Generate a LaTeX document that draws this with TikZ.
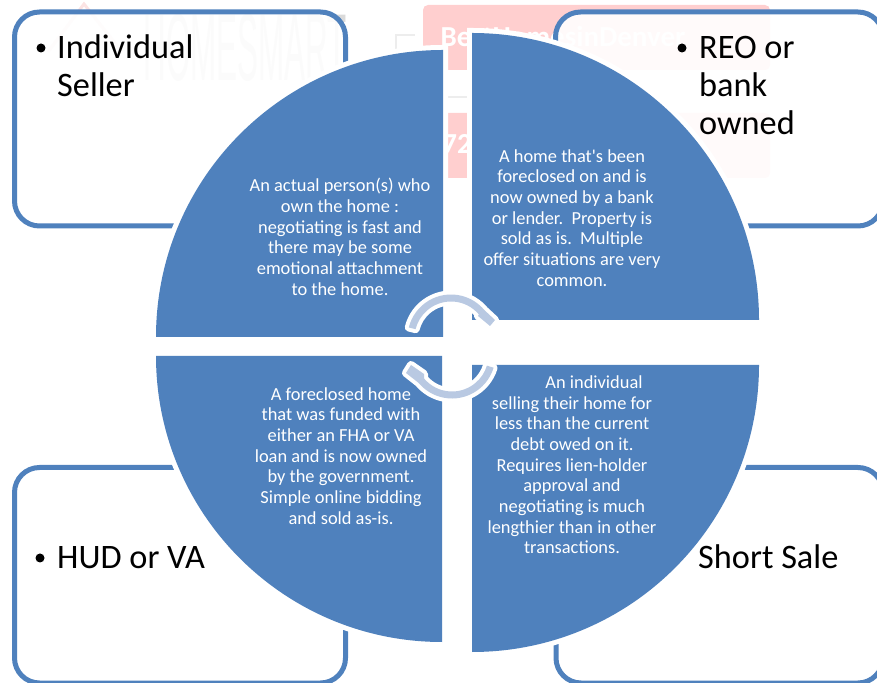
\documentclass[tikz,border=0pt]{standalone}
\usepackage{fontspec}
\newfontfamily\carlitofont{Carlito}
\newfontfamily\wmfont{Liberation Sans}
\definecolor{qblue}{HTML}{4F81BD}
\definecolor{arrowc}{HTML}{B9C9E2}
\definecolor{wmpink}{HTML}{FFCFCF}
\definecolor{wmgrey}{HTML}{DADADA}
\definecolor{wmline}{HTML}{EDEDED}
\definecolor{wmrose}{HTML}{FBE3E3}
\tikzset{
  x=1pt,y=1pt,
  outerbox/.style={draw=qblue,line width=5pt,rounded corners=25pt,fill=white,fill opacity=.9},
  quad/.style={fill=qblue,preaction={draw=white,line width=10pt}},
  bigtxt/.style={anchor=base west,inner sep=0pt,font=\carlitofont\fontsize{34.3}{38}\selectfont,align=left,text=black},
  dotmark/.style={circle,fill=black,inner sep=0pt,minimum size=9pt},
  smalltxt/.style={align=center,inner sep=0pt,text=white,font=\carlitofont\fontsize{18.4}{20.67}\selectfont,anchor=center},
  cyc/.style={fill=arrowc,preaction={draw=white,line width=8pt,line join=round}},
  wmrect/.style={fill=wmpink,rounded corners=5pt},
  wmtxt/.style={inner sep=0pt,text=wmgrey,font=\wmfont\fontsize{95}{95}\selectfont,xscale=.33},
  wmlabel/.style={inner sep=0pt,text=white,font=\carlitofont\bfseries\fontsize{29}{29}\selectfont}
}
\begin{document}
\begin{tikzpicture}
\useasboundingbox (0,0) rectangle (877,682);
% watermark
\node[wmtxt] (wm) at (245,634) {HOMESMART};
\draw[wmrose,line width=3pt] (48,630) -- (84,678) -- (122,630);
\draw[wmline,line width=1.5pt] (415,647) -- (396,647) -- (396,610);
\draw[wmline,line width=1.5pt] (447,585) -- (467,585);
\fill[wmrect] (423,677) rectangle (770,612);
\fill[wmrect] (423,569) rectangle (770,504);
\node[wmlabel] (wma) at (563,646) {BestHomesinDenver};
\node[wmlabel] (wmb) at (457,538) {72};
% boxes
\draw[outerbox] (14.5,670) rectangle (345.5,456);
\draw[outerbox] (555.5,670) rectangle (883,456);
\draw[outerbox] (14.5,214.5) rectangle (345.5,-1);
\draw[outerbox] (556,214.5) rectangle (883,-1);
% box text
\node[dotmark] (b1) at (41,634) {};
\node[bigtxt] (t1) at (57,623) {Individual};
\node[bigtxt] (t1b) at (57,585) {Seller};
\node[dotmark] (b2) at (682,634) {};
\node[bigtxt] (t2) at (699,623) {REO or};
\node[bigtxt] (t2b) at (699,585) {bank};
\node[bigtxt] (t2c) at (699,547) {owned};
\node[dotmark] (b3) at (40,124) {};
\node[bigtxt] (t3) at (57,113) {HUD or VA};
\node[dotmark] (b4) at (682,124) {};
\node[bigtxt] (t4) at (698,113) {Short Sale};
% quadrants
\path[quad] (156,345) arc (180:90:287) -- (443,345) -- cycle;
\path[quad] (472,649) arc (90:0:287) -- (472,362) -- cycle;
\path[quad] (759,317) arc (0:-90:287) -- (472,317) -- cycle;
\path[quad] (442,40) arc (270:180:286) -- (442,326) -- cycle;
% cycle arrows
\path[cyc] (451,344) ++(166:43.5) arc[start angle=166,end angle=40,radius=43.5] -- (495,362) -- (490,356) -- (478,366) -- (478.96,367.46) arc[start angle=40,end angle=166,radius=36.5] -- cycle;
\path[cyc] (452,327) ++(-17:43.5) arc[start angle=-17,end angle=-140,radius=43.5] -- (406,309) -- (411,317) -- (424,308) -- (424.04,303.54) arc[start angle=-140,end angle=-17,radius=36.5] -- cycle;
% quadrant text
\node[smalltxt] (q1) at (340,445) {An actual person(s) who\\own the home :\\negotiating is fast and\\there may be some\\emotional attachment\\to the home.};
\node[smalltxt] (q2) at (572,464) {A home that's been\\foreclosed on and is\\now owned by a bank\\or lender.\ \ Property is\\sold as is.\ \ Multiple\\offer situations are very\\common.};
\node[smalltxt] (q3) at (341,226) {A foreclosed home\\that was funded with\\either an FHA or VA\\loan and is now owned\\by the government.\\Simple online bidding\\and sold as-is.};
\node[smalltxt] (q4) at (572,217) {\hspace*{44pt}An individual\\selling their home for\\less than the current\\debt owed on it.\\Requires lien-holder\\approval and\\negotiating is much\\lengthier than in other\\transactions.};
\end{tikzpicture}
\end{document}
